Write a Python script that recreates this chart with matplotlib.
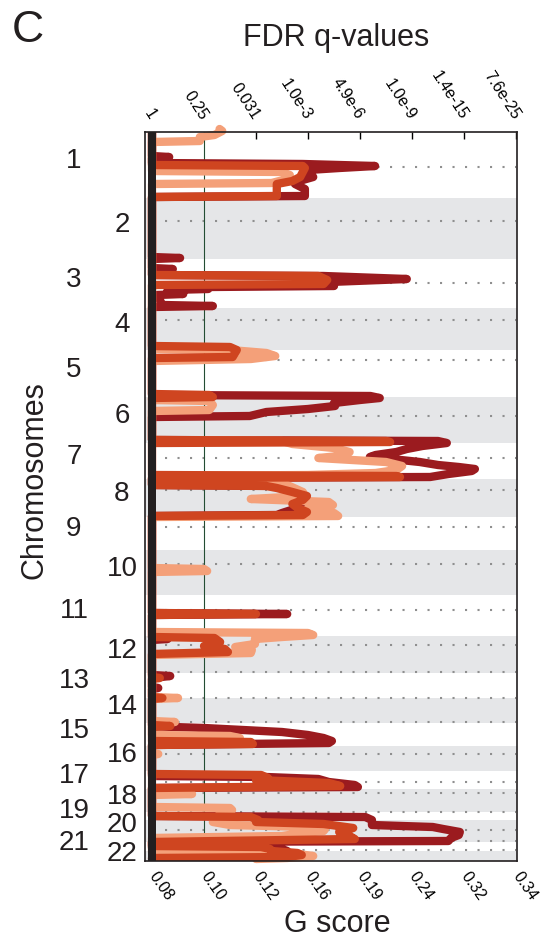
import numpy as np
import matplotlib
matplotlib.use('Agg')
import matplotlib.pyplot as plt
import matplotlib.transforms as mtransforms

plt.rcParams['font.family'] = ['Liberation Sans', 'DejaVu Sans']

# chromosome sizes (probe-index units, top to bottom)
chrom_names = [str(i) for i in range(1, 23)]
chrom_len = [66, 61, 49, 42, 47, 46, 36, 38, 33, 45, 41, 37, 25, 25, 23, 25, 18, 23, 8, 22, 9, 10]
# centromere positions (same units, from top)
centro_pos = [35, 89, 151, 188, 228, 284, 326, 358, 395, 432, 478, 513, 540, 566, 590, 622,
              650, 661, 680, 698, 709, 718]

top_labels = ['1', '0.25', '0.031', '1.0e-3', '4.9e-6', '1.0e-9', '1.4e-15', '7.6e-25']
bottom_labels = ['0.08', '0.10', '0.12', '0.16', '0.19', '0.24', '0.32', '0.34']
q_cutoff = 1.0   # position of q = 0.25 on the score scale

# G score profiles: (genomic position, score on tick scale)
dark_profile = [
    (0, 0), (24, 0), (25, 0.33), (26, 0),
    (31, 0), (32, 2.9), (34, 4.29), (36, 3.6), (38, 3.0), (42, 3.05), (45, 3.1), (48, 2.9),
    (52, 2.75), (57, 2.94), (64, 2.94), (65, 0),
    (125, 0), (126, 0.54), (127, 0), (136, 0), (137, 0.4), (138, 0),
    (143, 0), (144, 3.3), (147, 4.9), (150, 3.4), (154, 3.5), (155, 1.1), (157, 1.08), (158, 0.3),
    (161, 0.3), (162, 0.6), (163, 0.1), (173, 0.2), (174, 1.17), (175, 0),
    (263, 0), (264, 4.2), (266, 4.38), (268, 4.0), (271, 3.5), (274, 3.52), (277, 3.0), (280, 2.2),
    (284, 1.88), (285, 0),
    (308, 0), (309, 5.5), (311, 5.67), (314, 5.2), (317, 4.9), (320, 4.7), (323, 4.3), (325, 4.19),
    (327, 4.6), (330, 5.15), (333, 5.5), (335, 5.9), (337, 6.21), (339, 6.15), (342, 5.7),
    (345, 5.35), (346, 0),
    (353, 0), (354, 2.5), (357, 2.69), (361, 2.8), (366, 2.94), (371, 2.9), (376, 2.8), (381, 2.5),
    (383, 2.4), (384, 0),
    (481, 0), (482, 2.6), (483, 0),
    (506, 0), (507, 0.3), (508, 0),
    (543, 0), (544, 0.35), (546, 0),
    (555, 0), (556, 0.12), (557, 0),
    (594, 0), (595, 0.4), (596, 1.0), (600, 2.5), (603, 3.0), (606, 3.3), (609, 3.46), (611, 3.4),
    (613, 0),
    (644, 0), (645, 2.2), (647, 3.2), (650, 3.4), (653, 3.9), (655, 3.96), (656, 0),
    (684, 0), (685, 4.1), (688, 4.23), (693, 4.23), (695, 5.4), (697, 5.6), (700, 5.92), (703, 5.9),
    (706, 5.75), (709, 5.7), (710, 0),
    (716, 0), (717, 2.5), (719, 2.6), (720, 2.6), (723, 2.3), (725, 1.63), (726, 1.2), (727, 0.88),
]

orange_profile = [
    (0, 0), (33, 0), (34, 2.9), (36, 2.94), (40, 2.9), (45, 2.85), (49, 2.7), (52, 2.4),
    (64, 2.4), (65, 0),
    (143, 0), (144, 3.2), (148, 3.37), (152, 3.3), (153, 0),
    (214, 0), (215, 1.5), (218, 1.63), (225, 1.55), (226, 0),
    (262, 0), (263, 1.1), (265, 1.17), (266, 0),
    (308, 0), (309, 4.5), (310, 4.58), (311, 0), (343, 0), (344, 4.7), (345, 4.77), (346, 0),
    (353, 0), (354, 2.2), (356, 2.4), (360, 2.7), (364, 2.98), (368, 2.9), (372, 2.7), (376, 2.8),
    (380, 2.98), (383, 2.9), (384, 0),
    (481, 0), (482, 2.0), (483, 0),
    (505, 0), (506, 1.2), (510, 1.31), (514, 1.0), (517, 1.4), (520, 1.46), (522, 0),
    (545, 0), (546, 0.15), (547, 0),
    (565, 0), (566, 0.2), (567, 0),
    (593, 0), (594, 0.35), (595, 0), (609, 0), (610, 1.9), (612, 1.94), (613, 0),
    (642, 0), (643, 2.1), (646, 2.23), (648, 2.0), (651, 3.4), (654, 3.62), (656, 0),
    (684, 0), (685, 1.9), (688, 2.04), (690, 2.0), (692, 3.3), (696, 3.87), (700, 3.6), (704, 3.8),
    (707, 3.9), (710, 0),
    (714, 0), (715, 2.1), (717, 2.27), (719, 2.3), (721, 2.8), (723, 2.88), (725, 2.6), (726, 0),
    (727, 0),
]

salmon_profile = [
    (-3, 1.3), (-1, 1.35), (3, 1.2), (5, 0.92), (9, 0.92), (10, 0),
    (39, 0), (40, 2.5), (43, 2.65), (47, 2.6), (51, 2.3), (52, 0),
    (217, 0), (218, 1.5), (221, 2.2), (224, 2.37), (227, 1.9), (229, 0),
    (268, 0), (269, 1.1), (273, 1.17), (278, 1.1), (279, 0),
    (308, 0), (309, 2.5), (312, 2.7), (316, 3.5), (320, 3.8), (324, 3.6), (326, 3.2), (330, 4.5),
    (334, 4.81), (338, 4.7), (341, 4.3), (343, 3.0), (344, 0),
    (352, 0), (353, 2.6), (360, 2.9), (364, 2.94), (367, 1.9), (370, 3.4), (373, 3.48), (376, 3.0),
    (381, 3.5), (384, 3.58), (385, 0),
    (436, 0), (437, 1.0), (439, 1.06), (440, 0),
    (500, 0), (501, 3.0), (503, 3.1), (505, 2.5), (507, 1.98), (512, 1.98), (515, 1.6), (518, 1.92),
    (521, 1.9), (523, 0),
    (565, 0), (566, 0.5), (567, 0),
    (589, 0), (590, 0.44), (591, 0), (603, 0), (604, 1.5), (606, 1.69), (608, 1.6), (609, 0),
    (621, 0), (622, 0.12), (623, 0),
    (661, 0), (662, 0.77), (663, 0),
    (675, 0), (676, 1.5), (678, 1.54), (682, 1.3), (690, 1.17), (693, 1.5), (695, 3.0), (697, 3.33),
    (699, 3.3), (701, 2.9), (704, 2.5), (706, 0),
    (720, 0), (722, 2.8), (724, 3.1), (726, 2.6), (727, 2.0),
]

# small vertical nudges for the crowded labels at the bottom (label units)
label_nudge = {'19': -1, '20': -2, '21': 0, '22': 2}

col_dark = '#9b1b1f'
col_orange = '#cf4520'
col_salmon = '#f4a079'

fig = plt.figure(figsize=(5.43, 9.44), dpi=100)
ax = fig.add_axes([145 / 543, 1 - 861 / 944, 372 / 543, 729 / 944])

total = sum(chrom_len)
starts = np.concatenate([[0], np.cumsum(chrom_len)[:-1]])
ends = np.cumsum(chrom_len)

# alternating chromosome bands
for i, (s, e) in enumerate(zip(starts, ends)):
    if i % 2 == 1:
        ax.axhspan(s, e, color='#e5e6e8', lw=0, zorder=0)

# centromere dotted lines
for c in centro_pos:
    ax.plot([0.25, 7.0], [c, c], color='#8f8f8f', lw=1.5, ls=(0, (1, 5.0)),
            dash_capstyle='butt', zorder=1)

ax.axvline(q_cutoff, color='#234d33', lw=0.8, zorder=1.5)

for prof, col, z in [(dark_profile, col_dark, 2), (salmon_profile, col_salmon, 3),
                     (orange_profile, col_orange, 4)]:
    p = np.array(prof, dtype=float)
    ax.plot(p[:, 1], p[:, 0], color=col, lw=6.0, solid_capstyle='round',
            solid_joinstyle='round', zorder=z, clip_on=False if col == col_salmon else True)

# black baseline bar
ax.axvspan(-0.075, 0.075, color='#231f20', lw=0, zorder=6)

ax.set_xlim(-0.135, 7.02)
ax.set_ylim(total, 0)

for sp in ax.spines.values():
    sp.set_linewidth(1.2)
    sp.set_color('#231f20')
    sp.set_zorder(7)

ax.set_yticks([])
ax.set_xticks(range(8))
ax.set_xticklabels(bottom_labels, rotation=-55, ha='left', va='center',
                   rotation_mode='anchor', fontsize=11.5)
ax.tick_params(axis='x', bottom=True, length=0, pad=9)

top = ax.secondary_xaxis('top')
top.set_xticks(range(8))
top.set_xticklabels(top_labels, rotation=-57, ha='right', va='center',
                    rotation_mode='anchor', fontsize=11.5)
top.tick_params(axis='x', direction='in', length=5, width=1, pad=10)
top.spines['top'].set_visible(False)

# chromosome labels, odd on the left, even on the right
trans = mtransforms.blended_transform_factory(ax.transAxes, ax.transData)
for i, name in enumerate(chrom_names):
    mid = (starts[i] + ends[i]) / 2 - 7 + label_nudge.get(name, 0)
    xpos = -0.191 if i % 2 == 0 else -0.062
    ax.text(xpos, mid, name, transform=trans, ha='center', va='center_baseline', fontsize=20,
            color='#231f20')

fig.text(336 / 543, 1 - 38 / 944, 'FDR q-values', ha='center', va='center', fontsize=22,
         color='#231f20')
fig.text(337 / 543, 1 - 924 / 944, 'G score', ha='center', va='center', fontsize=22,
         color='#231f20')
fig.text(35 / 543, 1 - 480 / 944, 'Chromosomes', ha='center', va='center', fontsize=22,
         rotation=90, color='#231f20')
fig.text(28 / 543, 1 - 30 / 944, 'C', ha='center', va='center', fontsize=32, color='#231f20')

fig.savefig('out.png', dpi=100)
